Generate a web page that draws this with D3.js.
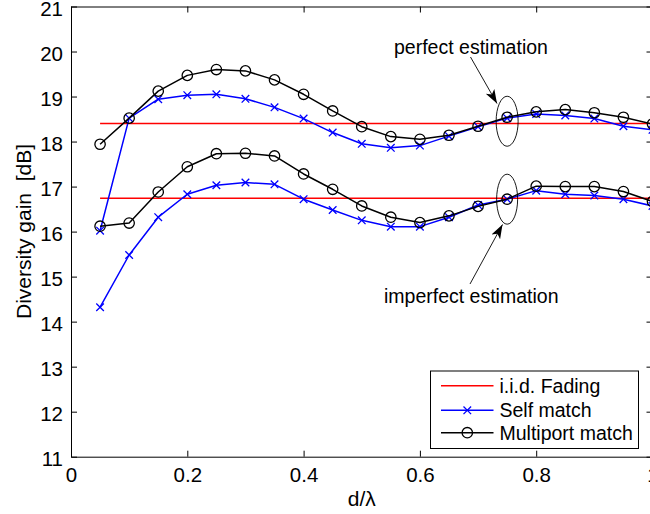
<!DOCTYPE html>
<html>
<head>
<meta charset="utf-8">
<script src="https://cdn.jsdelivr.net/npm/d3@7"></script>
<style>
  html, body { margin: 0; padding: 0; background: #fff; }
  svg { display: block; font-family: "Liberation Sans", Arial, Helvetica, sans-serif; }
</style>
</head>
<body>
<div id="chart"></div>
<script>
// d / lambda sample points
var DISTANCES = [0.05, 0.1, 0.15, 0.2, 0.25, 0.3, 0.35, 0.4, 0.45, 0.5,
                 0.55, 0.6, 0.65, 0.7, 0.75, 0.8, 0.85, 0.9, 0.95, 1.0];

// perfect estimation (upper group)
var SELF_PERFECT = [16.02, 18.52, 18.94, 19.03, 19.05, 18.95, 18.76, 18.51, 18.20, 17.95,
                    17.86, 17.91, 18.12, 18.33, 18.52, 18.61, 18.58, 18.51, 18.34, 18.26];
var MULTI_PERFECT = [17.94, 18.52, 19.12, 19.47, 19.60, 19.57, 19.37, 19.05, 18.68, 18.33,
                     18.11, 18.05, 18.14, 18.34, 18.54, 18.66, 18.71, 18.64, 18.54, 18.39];
var IID_PERFECT = 18.40;

// imperfect estimation (lower group)
var SELF_IMPERFECT = [14.32, 15.48, 16.32, 16.83, 17.03, 17.09, 17.05, 16.72, 16.48, 16.25,
                      16.11, 16.11, 16.32, 16.59, 16.72, 16.91, 16.83, 16.80, 16.72, 16.57];
var MULTI_IMPERFECT = [16.12, 16.19, 16.88, 17.44, 17.73, 17.74, 17.68, 17.28, 16.94, 16.57,
                       16.32, 16.20, 16.35, 16.56, 16.72, 17.01, 17.00, 17.00, 16.89, 16.67];
var IID_IMPERFECT = 16.74;

var X_TICKS = [0, 0.2, 0.4, 0.6, 0.8, 1];
var Y_TICKS = [11, 12, 13, 14, 15, 16, 17, 18, 19, 20, 21];

var LEGEND_ITEMS = [
  { label: "i.i.d. Fading", color: "#ff0000", marker: "none" },
  { label: "Self match", color: "#0000ff", marker: "x" },
  { label: "Multiport match", color: "#000000", marker: "o" }
];

var W = 650, H = 514;
var plotLeft = 71, plotTop = 6.5, plotRight = 652.5, plotBottom = 456.7;
var FONT = 19.5;       // legend + annotations
var TICK_FONT = 20.5;  // tick labels
var LABEL_FONT = 21;   // axis titles

var svg = d3.select("#chart").append("svg")
  .attr("width", W).attr("height", H);

var x = d3.scaleLinear().domain([0, 1]).range([plotLeft, plotRight]);
var y = d3.scaleLinear().domain([11, 21]).range([plotBottom, plotTop]);

var defs = svg.append("defs");
defs.append("clipPath").attr("id", "plotClip")
  .append("rect").attr("x", plotLeft).attr("y", plotTop)
  .attr("width", plotRight - plotLeft).attr("height", plotBottom - plotTop);
defs.append("marker").attr("id", "arrowHead")
  .attr("viewBox", "0 0 10 10").attr("refX", 10).attr("refY", 5)
  .attr("markerWidth", 14).attr("markerHeight", 14)
  .attr("markerUnits", "userSpaceOnUse")
  .attr("orient", "auto")
  .append("path").attr("d", "M0,1.5 L10,5 L0,8.5 L2.5,5 Z").attr("fill", "#000");

// axes box with inward ticks on all four sides
var axisGroup = svg.append("g");
var xAxisG = axisGroup.append("g")
  .attr("transform", "translate(0," + plotBottom + ")")
  .call(d3.axisBottom(x).tickValues(X_TICKS).tickSizeInner(-6).tickSizeOuter(0).tickPadding(11)
    .tickFormat(function(d) { return d === 0 || d === 1 ? d3.format("d")(d) : d3.format(".1f")(d); }));
axisGroup.append("g")
  .attr("transform", "translate(0," + plotTop + ")")
  .call(d3.axisTop(x).tickValues(X_TICKS).tickSizeInner(-6).tickSizeOuter(0).tickFormat(""));
var yAxisG = axisGroup.append("g")
  .attr("transform", "translate(" + plotLeft + ",0)")
  .call(d3.axisLeft(y).tickValues(Y_TICKS).tickSizeInner(-6).tickSizeOuter(0).tickPadding(8));
axisGroup.append("g")
  .attr("transform", "translate(" + plotRight + ",0)")
  .call(d3.axisRight(y).tickValues(Y_TICKS).tickSizeInner(-6).tickSizeOuter(0).tickFormat(""));

axisGroup.selectAll(".domain").attr("stroke", "#000").attr("stroke-width", 1);
axisGroup.selectAll(".tick line").attr("stroke", "#000").attr("stroke-width", 1);
axisGroup.selectAll(".tick text")
  .attr("font-size", TICK_FONT + "px").attr("fill", "#000")
  .attr("font-family", "Liberation Sans, Arial, sans-serif");
yAxisG.selectAll(".tick text").attr("dy", "0.42em");

// axis titles
svg.append("text")
  .attr("x", x(0.5)).attr("y", 505.5)
  .attr("text-anchor", "middle").attr("font-size", LABEL_FONT + "px")
  .text("d/\u03bb");
svg.append("text")
  .attr("transform", "translate(30.5," + 231.5 + ") rotate(-90)")
  .attr("text-anchor", "middle").attr("font-size", LABEL_FONT + "px")
  .attr("xml:space", "preserve")
  .text("Diversity gain  [dB]");

var plot = svg.append("g").attr("clip-path", "url(#plotClip)");

var line = d3.line()
  .x(function(d) { return x(d[0]); })
  .y(function(d) { return y(d[1]); });

function zip(vals) {
  return DISTANCES.map(function(d, i) { return [d, vals[i]]; });
}

function drawIid(level) {
  plot.append("path")
    .datum([[DISTANCES[0], level], [DISTANCES[DISTANCES.length - 1], level]])
    .attr("d", line).attr("fill", "none")
    .attr("stroke", "#ff0000").attr("stroke-width", 1.5);
}

function drawSeries(vals, color, marker) {
  var pts = zip(vals);
  plot.append("path").datum(pts)
    .attr("d", line).attr("fill", "none")
    .attr("stroke", color).attr("stroke-width", 1.5)
    .attr("stroke-linejoin", "round");
  pts.forEach(function(p) {
    drawMarker(plot, x(p[0]), y(p[1]), color, marker);
  });
}

function drawMarker(g, cx, cy, color, marker) {
  if (marker === "o") {
    g.append("circle").attr("cx", cx).attr("cy", cy).attr("r", 5.2)
      .attr("fill", "none").attr("stroke", color).attr("stroke-width", 1.3);
  } else if (marker === "x") {
    var s = 3.8;
    g.append("path")
      .attr("d", "M" + (cx - s) + "," + (cy - s) + "L" + (cx + s) + "," + (cy + s) +
                 "M" + (cx - s) + "," + (cy + s) + "L" + (cx + s) + "," + (cy - s))
      .attr("stroke", color).attr("stroke-width", 1.3);
  }
}

drawIid(IID_PERFECT);
drawIid(IID_IMPERFECT);
drawSeries(SELF_PERFECT, "#0000ff", "x");
drawSeries(SELF_IMPERFECT, "#0000ff", "x");
drawSeries(MULTI_PERFECT, "#000000", "o");
drawSeries(MULTI_IMPERFECT, "#000000", "o");

// annotations: ellipses around d = 0.75 and arrows
var notes = svg.append("g");
notes.append("ellipse")
  .attr("cx", x(0.75)).attr("cy", y(MULTI_PERFECT[14]) + 4)
  .attr("rx", 11).attr("ry", 25)
  .attr("fill", "none").attr("stroke", "#000").attr("stroke-width", 0.9);
notes.append("ellipse")
  .attr("cx", x(0.75)).attr("cy", y(MULTI_IMPERFECT[14]))
  .attr("rx", 10.5).attr("ry", 25)
  .attr("fill", "none").attr("stroke", "#000").attr("stroke-width", 0.9);

notes.append("line")
  .attr("x1", 470.5).attr("y1", 57).attr("x2", 497).attr("y2", 103.5)
  .attr("stroke", "#000").attr("stroke-width", 0.9)
  .attr("marker-end", "url(#arrowHead)");
notes.append("line")
  .attr("x1", 470).attr("y1", 284).attr("x2", 502.5).attr("y2", 224.5)
  .attr("stroke", "#000").attr("stroke-width", 0.9)
  .attr("marker-end", "url(#arrowHead)");

notes.append("text")
  .attr("x", 394).attr("y", 53.5).attr("font-size", FONT + "px")
  .text("perfect estimation");
notes.append("text")
  .attr("x", 384).attr("y", 302.5).attr("font-size", FONT + "px")
  .text("imperfect estimation");

// legend
var legend = svg.append("g");
legend.append("rect")
  .attr("x", 430.5).attr("y", 371).attr("width", 208).attr("height", 77.5)
  .attr("fill", "#fff").attr("stroke", "#000").attr("stroke-width", 1);
var rowY = [385.7, 410.3, 432.7];
LEGEND_ITEMS.forEach(function(item, i) {
  legend.append("line")
    .attr("x1", 441).attr("x2", 493.5).attr("y1", rowY[i]).attr("y2", rowY[i])
    .attr("stroke", item.color).attr("stroke-width", 1.5);
  drawMarker(legend, 467.3, rowY[i], item.color, item.marker);
  legend.append("text")
    .attr("x", 499.5).attr("y", rowY[i]).attr("dy", "0.35em")
    .attr("font-size", FONT + "px")
    .text(item.label);
});
</script>
</body>
</html>
